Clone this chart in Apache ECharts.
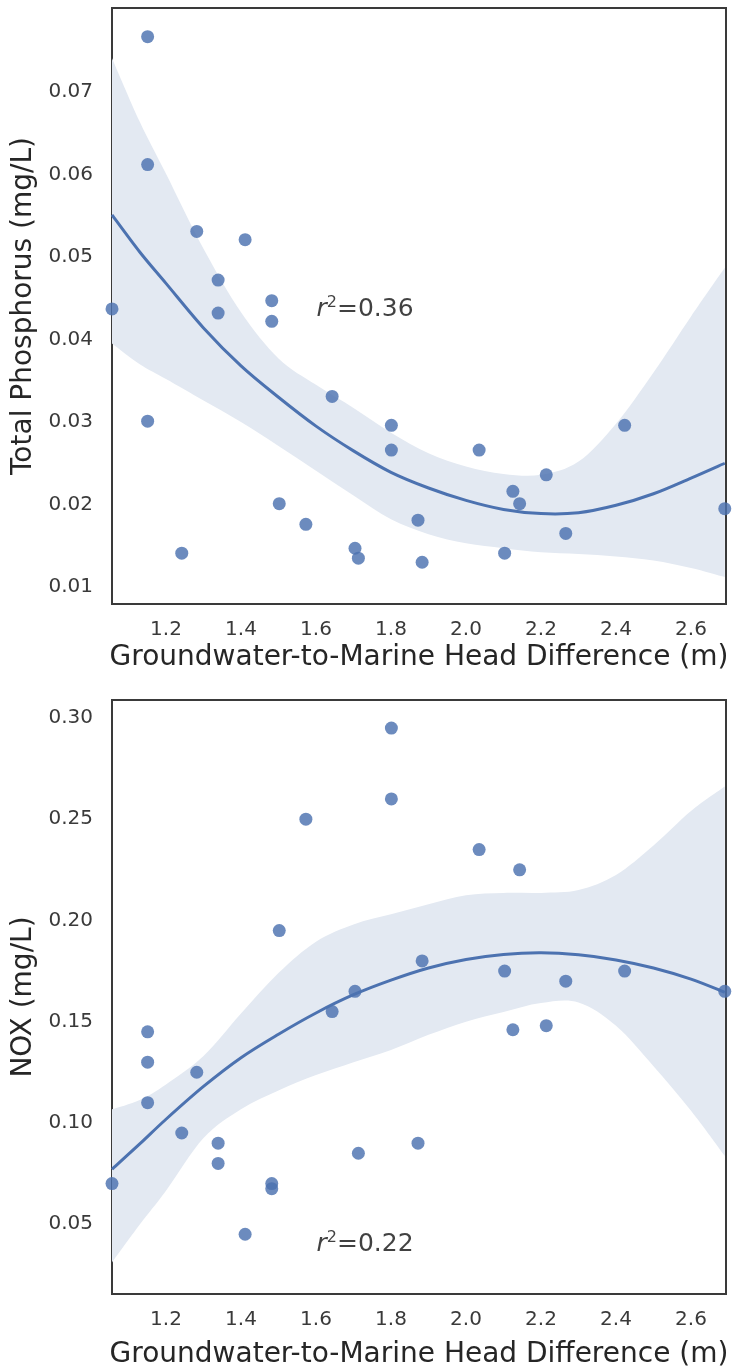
<!DOCTYPE html>
<html>
<head>
<meta charset="utf-8">
<script src="https://cdn.jsdelivr.net/npm/echarts@6.0.0/dist/echarts.min.js"></script>
<style>
  html, body { margin: 0; padding: 0; background: #ffffff; }
  #chart { width: 736px; height: 1370px; }
</style>
</head>
<body>
<div id="chart"></div>
<script>
// Groundwater-to-marine head difference (m) for each sampled well
const headDiff = [1.056, 1.151, 1.151, 1.151, 1.242, 1.282, 1.339, 1.339, 1.411, 1.482,
                  1.482, 1.502, 1.573, 1.643, 1.704, 1.713, 1.801, 1.801, 1.872, 1.883,
                  2.035, 2.103, 2.125, 2.143, 2.214, 2.266, 2.423, 2.690];

// Total phosphorus (mg/L), same well order
const totalP = [0.0437, 0.0767, 0.0612, 0.0301, 0.0141, 0.0531, 0.0472, 0.0432, 0.0521, 0.0447,
                0.0422, 0.0201, 0.0176, 0.0331, 0.0147, 0.0135, 0.0296, 0.0266, 0.0181, 0.0130,
                0.0266, 0.0141, 0.0216, 0.0201, 0.0236, 0.0165, 0.0296, 0.0195];

// NOX (mg/L), same well order
const nox = [0.070, 0.145, 0.130, 0.110, 0.095, 0.125, 0.090, 0.080, 0.045, 0.070,
             0.0675, 0.195, 0.250, 0.155, 0.165, 0.085, 0.295, 0.260, 0.090, 0.180,
             0.235, 0.175, 0.146, 0.225, 0.148, 0.170, 0.175, 0.165];

// Second-order fit and 95% confidence band, sampled along the head difference
const fitX = [1.056, 1.13, 1.2, 1.3, 1.4, 1.5, 1.6, 1.7, 1.8, 1.9, 2.0, 2.1, 2.2, 2.3, 2.4, 2.5, 2.6, 2.69];

const tpFit   = [0.0551, 0.0506, 0.0468, 0.0414, 0.0368, 0.0330, 0.0295, 0.0265, 0.0239, 0.0220,
                 0.0205, 0.0194, 0.0189, 0.0190, 0.0199, 0.0213, 0.0232, 0.0250];
const tpUpper = [0.0741, 0.0664, 0.0601, 0.0510, 0.0433, 0.0377, 0.0345, 0.0317, 0.0287, 0.0262,
                 0.0246, 0.0237, 0.0236, 0.0252, 0.0298, 0.0360, 0.0428, 0.0487];
const tpLower = [0.0395, 0.0370, 0.0352, 0.0326, 0.0300, 0.0271, 0.0241, 0.0211, 0.0182, 0.0164,
                 0.0153, 0.0147, 0.0142, 0.0140, 0.0137, 0.0132, 0.0123, 0.0112];

const noxFit   = [0.0771, 0.0896, 0.1018, 0.1180, 0.1322, 0.1438, 0.1543, 0.1633, 0.1705, 0.1765,
                  0.1807, 0.1832, 0.1840, 0.1830, 0.1805, 0.1765, 0.1710, 0.1645];
const noxUpper = [0.1067, 0.1113, 0.1190, 0.1330, 0.1540, 0.1740, 0.1895, 0.1980, 0.2030, 0.2080,
                  0.2125, 0.2136, 0.2136, 0.2150, 0.2225, 0.2370, 0.2540, 0.2661];
const noxLower = [0.0311, 0.0498, 0.0665, 0.0925, 0.1067, 0.1160, 0.1236, 0.1300, 0.1360, 0.1435,
                  0.1500, 0.1548, 0.1592, 0.1595, 0.1480, 0.1280, 0.1060, 0.0837];

// Coefficients of determination shown on each panel, and where they sit
const rSquared = ['0.36', '0.22'];
const rSquaredAt = [[1.6, 0.0436], [1.6, 0.0400]];

// Tick labels
const xTicks = [1.2, 1.4, 1.6, 1.8, 2.0, 2.2, 2.4, 2.6];
const tpTicks = [0.01, 0.02, 0.03, 0.04, 0.05, 0.06, 0.07];
const noxTicks = [0.05, 0.10, 0.15, 0.20, 0.25, 0.30];

const xTitle = 'Groundwater-to-Marine Head Difference (m)';
const yTitles = ['Total Phosphorus (mg/L)', 'NOX (mg/L)'];

const FONT = 'DejaVu Sans';
const BLUE = '#4C72B0';
const BAND = '#e3e9f2';

const pairs = (xs, ys) => xs.map((x, i) => [x, ys[i]]);

// Cubic Bezier segments through a run of pixel points (Catmull-Rom style)
function curveThrough(pts) {
  let d = '';
  for (let i = 0; i < pts.length - 1; i++) {
    const p0 = pts[Math.max(i - 1, 0)], p1 = pts[i], p2 = pts[i + 1], p3 = pts[Math.min(i + 2, pts.length - 1)];
    const c1x = p1[0] + (p2[0] - p0[0]) / 6, c1y = p1[1] + (p2[1] - p0[1]) / 6;
    const c2x = p2[0] - (p3[0] - p1[0]) / 6, c2y = p2[1] - (p3[1] - p1[1]) / 6;
    d += ' C' + c1x + ',' + c1y + ' ' + c2x + ',' + c2y + ' ' + p2[0] + ',' + p2[1];
  }
  return d;
}

function xAxisFor(gridIndex, nameGap) {
  return {
    type: 'value', gridIndex,
    min: 1.056, max: 2.6933,
    name: xTitle, nameLocation: 'middle', nameGap,
    nameTextStyle: { fontFamily: FONT, fontSize: 28, color: '#262626' },
    axisLine: { show: false }, axisTick: { show: false }, splitLine: { show: false },
    axisLabel: {
      customValues: xTicks, margin: 16,
      fontFamily: FONT, fontSize: 20, color: '#3a3a3a',
      formatter: v => v.toFixed(1)
    }
  };
}

function yAxisFor(gridIndex, min, max, ticks, title) {
  return {
    type: 'value', gridIndex, min, max,
    name: title, nameLocation: 'middle', nameGap: 72, nameRotate: 90,
    nameTextStyle: { fontFamily: FONT, fontSize: 28, color: '#262626' },
    axisLine: { show: false }, axisTick: { show: false }, splitLine: { show: false },
    axisLabel: {
      customValues: ticks, margin: 19,
      fontFamily: FONT, fontSize: 20, color: '#3a3a3a',
      formatter: v => v.toFixed(2)
    }
  };
}

function panelSeries(idx, ys, fit, lower, upper, r2, r2At) {
  return [
    {
      // confidence band: one closed path between the upper and lower bounds
      type: 'custom', xAxisIndex: idx, yAxisIndex: idx, silent: true, z: 1,
      data: fitX.map((x, i) => [x, lower[i], upper[i]]),
      encode: { x: 0, y: [1, 2] },
      renderItem: (params, api) => {
        if (params.dataIndex !== 0) return;
        const up = fitX.map((x, i) => api.coord([x, upper[i]]));
        const lo = fitX.map((x, i) => api.coord([x, lower[i]])).reverse();
        const d = 'M' + up[0][0] + ',' + up[0][1] + curveThrough(up) +
                  ' L' + lo[0][0] + ',' + lo[0][1] + curveThrough(lo) + ' Z';
        return { type: 'path', shape: { pathData: d }, style: { fill: BAND, stroke: null } };
      }
    },
    {
      type: 'scatter', xAxisIndex: idx, yAxisIndex: idx,
      data: pairs(headDiff, ys), symbolSize: 13,
      itemStyle: { color: BLUE, opacity: 0.82 }, z: 3
    },
    {
      // fitted curve, drawn as a smooth path through the sampled fit values
      type: 'custom', xAxisIndex: idx, yAxisIndex: idx, silent: true, z: 4,
      data: pairs(fitX, fit),
      encode: { x: 0, y: 1 },
      renderItem: (params, api) => {
        if (params.dataIndex !== 0) return;
        const pts = fitX.map((x, i) => api.coord([x, fit[i]]));
        const d = 'M' + pts[0][0] + ',' + pts[0][1] + curveThrough(pts);
        return { type: 'path', shape: { pathData: d }, style: { fill: null, stroke: BLUE, lineWidth: 3 } };
      }
    },
    {
      type: 'scatter', xAxisIndex: idx, yAxisIndex: idx,
      data: [r2At], symbolSize: 1, itemStyle: { color: 'rgba(0,0,0,0)' }, silent: true, z: 5,
      label: {
        show: true, position: 'right', distance: 0,
        formatter: '{r|r}{s|2}{t|=' + r2 + '}',
        rich: {
          r: { fontFamily: FONT, fontSize: 25, fontStyle: 'italic', color: '#111', lineHeight: 30 },
          s: { fontFamily: FONT, fontSize: 16, color: '#111', lineHeight: 17, verticalAlign: 'top' },
          t: { fontFamily: FONT, fontSize: 25, color: '#111', lineHeight: 30 }
        }
      }
    }
  ];
}

const chart = echarts.init(document.getElementById('chart'), null, { renderer: 'canvas' });
chart.setOption({
  backgroundColor: '#ffffff',
  animation: false,
  grid: [
    { left: 112, top: 8, width: 614, height: 596, show: true, borderColor: '#3a3a3a', borderWidth: 2, backgroundColor: 'transparent' },
    { left: 112, top: 700, width: 614, height: 595, show: true, borderColor: '#3a3a3a', borderWidth: 2, backgroundColor: 'transparent' }
  ],
  xAxis: [xAxisFor(0, 40), xAxisFor(1, 47)],
  yAxis: [
    yAxisFor(0, 0.00794, 0.08018, tpTicks, yTitles[0]),
    yAxisFor(1, 0.01548, 0.30888, noxTicks, yTitles[1])
  ],
  series: [
    ...panelSeries(0, totalP, tpFit, tpLower, tpUpper, rSquared[0], rSquaredAt[0]),
    ...panelSeries(1, nox, noxFit, noxLower, noxUpper, rSquared[1], rSquaredAt[1])
  ]
});
</script>
</body>
</html>
